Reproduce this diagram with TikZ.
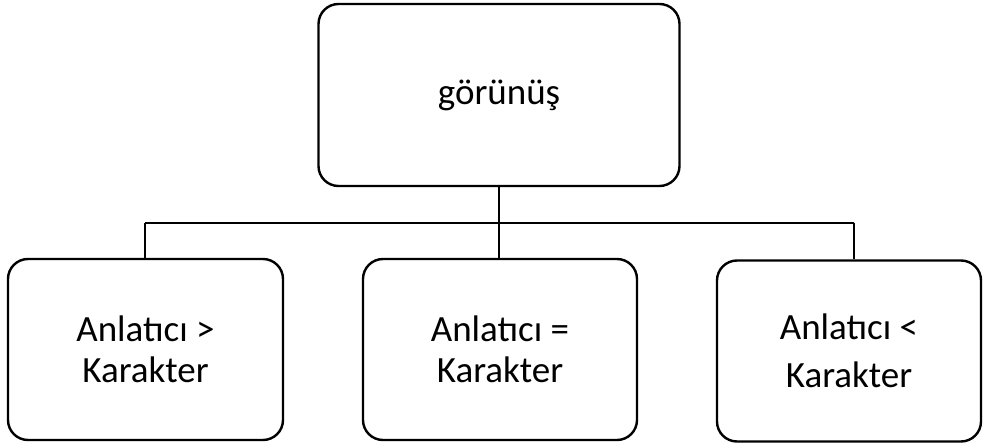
\documentclass[tikz,border=0pt]{standalone}
\usepackage{fontspec}
\setmainfont{Carlito}
\begin{document}
\begin{tikzpicture}[x=1pt,y=-1pt,
  box/.style={draw=black, line width=2.4pt, rounded corners=20pt, fill=white,
    inner sep=0pt, align=center, font=\fontsize{37}{41}\selectfont},
  link/.style={draw=black, line width=2.4pt}]
  \useasboundingbox (0,0) rectangle (983,443);
  % top box
  \node[box, minimum width=361pt, minimum height=182pt] (top) at (499,95) {görünüş};
  % three lower boxes
  \node[box, minimum width=275pt, minimum height=181pt] (left) at (145.5,349.5)
    {Anlatıcı >\\Karakter};
  \node[box, minimum width=274pt, minimum height=181pt] (mid) at (500,349.5)
    {Anlatıcı =\\Karakter};
  \node[box, minimum width=264pt, minimum height=181pt] (right) at (849,351)
    {Anlatıcı <\\[7pt]Karakter};
  % connector bus
  \coordinate (bus) at (499,223);
  \coordinate (busL) at (145,223);
  \coordinate (busR) at (854,223);
  \draw[link] (top.south) -- (bus);
  \draw[link] (busL) -- (busR);
  \draw[link] (busL) -- (busL |- left.north);
  \draw[link] (bus) -- (bus |- mid.north);
  \draw[link] (busR) -- (busR |- right.north);
\end{tikzpicture}
\end{document}
